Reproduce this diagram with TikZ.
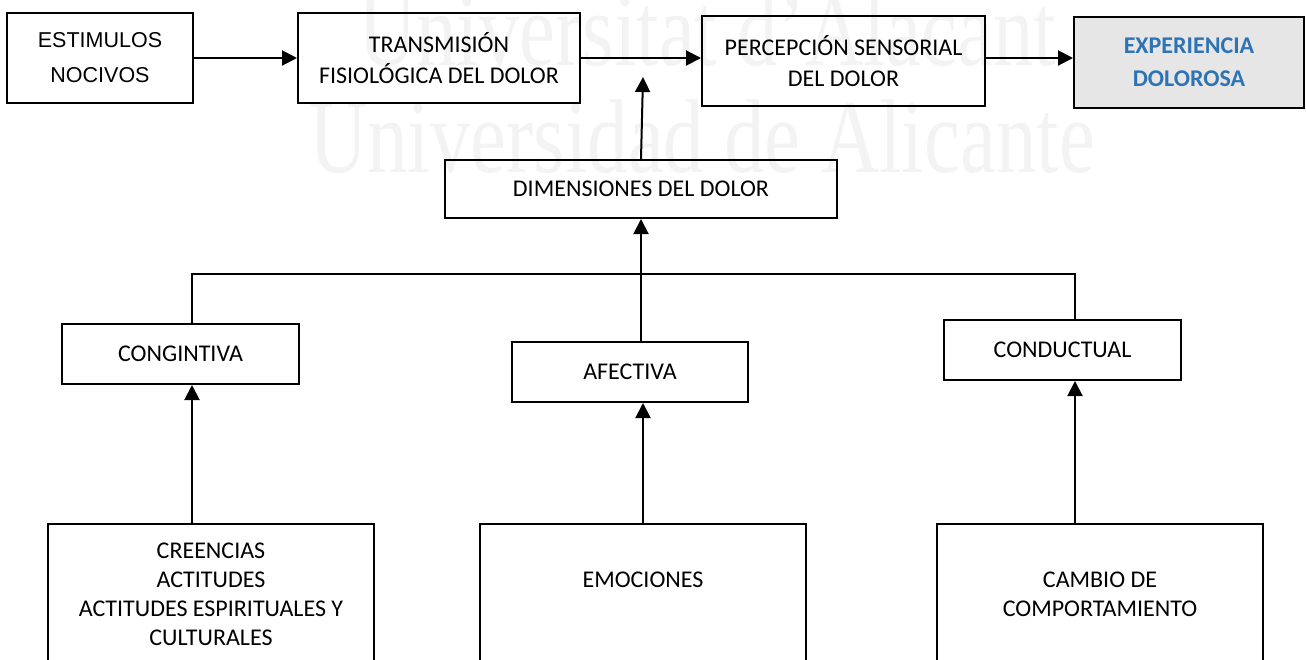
\documentclass[tikz,border=0pt]{standalone}
\usepackage{fontspec}
\setmainfont{Carlito}
\newfontfamily\arialf{Liberation Sans}
\newfontfamily\wmfont{Liberation Serif}
\usetikzlibrary{arrows.meta}
\definecolor{boxgray}{RGB}{230,230,230}
\definecolor{headblue}{RGB}{46,116,181}
\definecolor{wmgray}{RGB}{243,243,243}
\tikzset{
  box/.style={draw=black, line width=2pt, inner sep=0pt, align=center,
    font=\fontsize{24}{31}\selectfont},
  link/.style={line width=2pt},
  arr/.style={link, -{Triangle[length=15pt,width=15pt]}},
  mark text/.style={inner sep=0pt, align=center, font=\fontsize{24}{29}\selectfont},
  wm/.style={inner sep=0pt, anchor=base west, xscale=.77, text=wmgray,
    font=\wmfont\fontsize{105}{105}\selectfont}
}
\begin{document}
\begin{tikzpicture}[x=1pt,y=-1pt]
\useasboundingbox (0,0) rectangle (1306,659);
\clip (0,0) rectangle (1306,659);

% watermark behind the chart
\node[wm] (wmA) at (358,65) {Universitat d’Alacant};
\node[wm] (wmB) at (309,172) {Universidad de Alicante};

% top row
\node[box, minimum width=186pt, minimum height=90pt,
  font=\arialf\fontsize{21.5}{35}\selectfont] (est) at (100,58) {ESTIMULOS\\NOCIVOS};
\node[box, minimum width=282pt, minimum height=90pt] (trans) at (439,58)
  {TRANSMISIÓN\\FISIOLÓGICA DEL DOLOR};
\node[box, minimum width=283pt, minimum height=90pt] (perc) at (843.5,61)
  {PERCEPCIÓN SENSORIAL\\DEL DOLOR};
\node[box, fill=boxgray, minimum width=230pt, minimum height=91pt,
  font=\bfseries\fontsize{24}{33}\selectfont, text=headblue] (exp) at (1189,62.5)
  {EXPERIENCIA\\DOLOROSA};

% middle
\node[box, minimum width=392pt, minimum height=58pt] (dim) at (641,189) {DIMENSIONES DEL DOLOR};
\node[box, minimum width=237pt, minimum height=60pt] (cong) at (180.5,354) {CONGINTIVA};
\node[box, minimum width=236pt, minimum height=60pt] (afec) at (630,372) {AFECTIVA};
\node[box, minimum width=237pt, minimum height=60pt] (cond) at (1062.5,350) {CONDUCTUAL};

% bottom row (boxes run past the lower edge)
\node[box, minimum width=326pt, minimum height=200pt] (cre) at (211,624) {};
\node[box, minimum width=326pt, minimum height=200pt] (emo) at (643,624) {};
\node[box, minimum width=326pt, minimum height=200pt] (cam) at (1100,624) {};
\node[mark text] (creT) at (211,594.5)
  {CREENCIAS\\ACTITUDES\\ACTITUDES ESPIRITUALES Y\\CULTURALES};
\node[mark text] (emoT) at (643,580) {EMOCIONES};
\node[mark text] (camT) at (1100,594.5) {CAMBIO DE\\COMPORTAMIENTO};

% connectors
\coordinate (dimtip) at (643,77);
\coordinate (brL) at (192,274);
\coordinate (brR) at (1075,274);

\draw[arr] (est.east) -- (trans.west);
\draw[arr] (trans.east) -- (trans.east -| perc.west);
\draw[arr] (perc.east |- est.east) -- (exp.west |- est.east);
\draw[arr] (dim.north) -- (dimtip);

\draw[link] (cong.north -| brL) -- (brL) -- (brR) -- (cond.north -| brR);
\draw[arr] (afec.north -| dim.south) -- (dim.south);

\draw[arr] (cre.north -| brL) -- (cong.south -| brL);
\draw[arr] (emo.north) -- (emo.north |- afec.south);
\draw[arr] (cam.north -| brR) -- (cond.south -| brR);
\end{tikzpicture}
\end{document}
